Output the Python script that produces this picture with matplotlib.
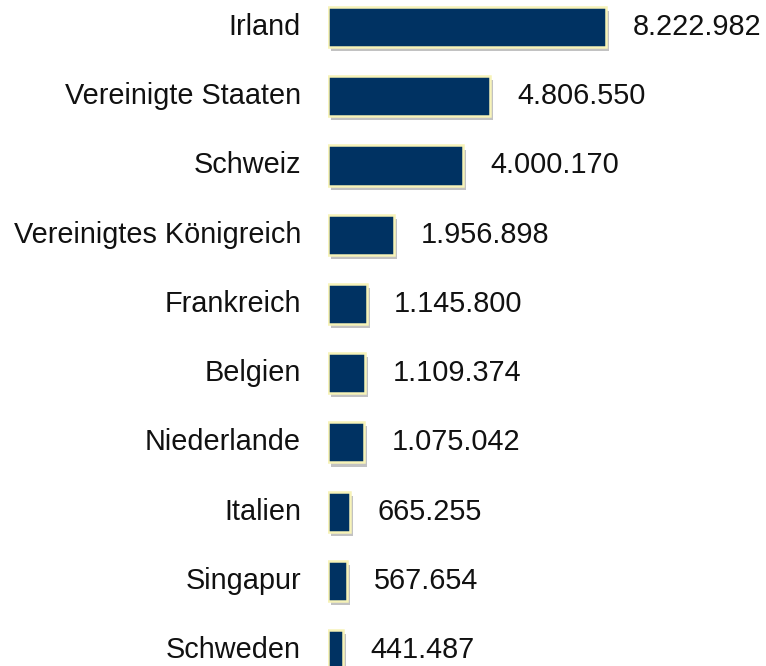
import matplotlib.pyplot as plt
import matplotlib.patheffects as pe

# data
countries = ['Irland', 'Vereinigte Staaten', 'Schweiz', 'Vereinigtes Königreich',
             'Frankreich', 'Belgien', 'Niederlande', 'Italien', 'Singapur', 'Schweden']
values = [8222982, 4806550, 4000170, 1956898, 1145800, 1109374, 1075042,
          665255, 567654, 441487]
value_labels = ['8.222.982', '4.806.550', '4.000.170', '1.956.898', '1.145.800',
                '1.109.374', '1.075.042', '665.255', '567.654', '441.487']

plt.rcParams['font.family'] = ['Liberation Sans', 'DejaVu Sans']

fig = plt.figure(figsize=(7.66, 6.66), dpi=100)
ax = fig.add_axes([328 / 766, 0, 1 - 328 / 766, 1])

y = list(range(len(countries)))
bars = ax.barh(y, values, height=0.58, color='#003262', edgecolor='#f7f3b8',
               linewidth=1.8, zorder=3)
for b in bars:
    b.set_path_effects([pe.SimplePatchShadow(offset=(2, -3), shadow_rgbFace='#9a9a9a', alpha=0.6),
                        pe.Normal()])

for yi, v, lab, name in zip(y, values, value_labels, countries):
    ax.text(v + 0.8e6, yi, lab, va='center', ha='left', fontsize=20.8, color='#111111')
    ax.text(-0.8e6, yi, name, va='center', ha='right', fontsize=20.8, color='#111111',
            clip_on=False)

ax.set_xlim(0, 12.96e6)
ax.set_ylim(9.23, -0.39)
ax.axis('off')

fig.savefig('out.png', dpi=100)
